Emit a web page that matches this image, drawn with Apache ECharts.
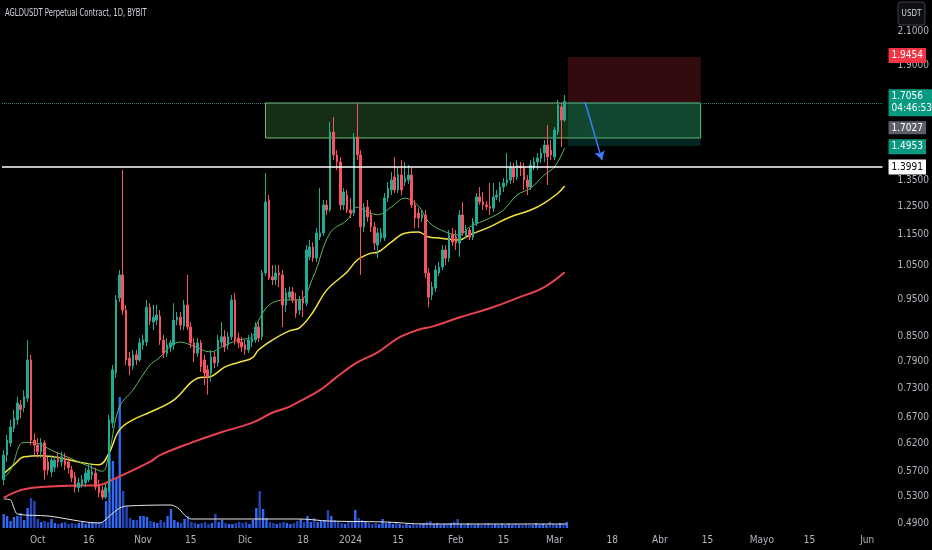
<!DOCTYPE html>
<html><head><meta charset="utf-8">
<script src="https://cdn.jsdelivr.net/npm/echarts@6/dist/echarts.min.js"></script>
<style>html,body{margin:0;padding:0;background:#000;}#c{width:932px;height:550px;}</style>
</head><body><div id="c"></div>
<script>
// ---------- data ----------
const title = 'AGLDUSDT Perpetual Contract, 1D, BYBIT';
const currency = 'USDT';
const firstDay = [2023, 8, 21];   // 2023-09-21 (UTC, month 0-based)
const dayCount = 259;             // through 2024-06-05

// [open, close, low, high]
const ohlc = [
[0.557,0.599,0.548,0.608],[0.599,0.626,0.587,0.636],[0.621,0.651,0.614,0.665],[0.649,0.668,0.641,0.685],[0.665,0.699,0.655,0.712],
[0.695,0.685,0.668,0.705],[0.689,0.712,0.680,0.726],[0.709,0.794,0.701,0.842],[0.794,0.626,0.617,0.806],[0.626,0.617,0.599,0.639],
[0.617,0.605,0.594,0.630],[0.605,0.621,0.594,0.630],[0.621,0.573,0.557,0.626],[0.587,0.573,0.565,0.596],[0.570,0.590,0.562,0.599],
[0.578,0.590,0.570,0.598],[0.596,0.587,0.577,0.605],[0.587,0.596,0.579,0.605],[0.594,0.582,0.573,0.603],[0.587,0.577,0.567,0.594],
[0.573,0.560,0.553,0.580],[0.562,0.544,0.536,0.570],[0.544,0.552,0.537,0.560],[0.548,0.557,0.544,0.565],[0.552,0.568,0.545,0.577],
[0.557,0.573,0.553,0.585],[0.565,0.570,0.557,0.582],[0.568,0.545,0.540,0.577],[0.548,0.536,0.529,0.557],[0.540,0.529,0.525,0.547],
[0.529,0.544,0.526,0.550],[0.540,0.665,0.537,0.675],[0.659,0.771,0.649,0.782],[0.764,0.948,0.753,0.962],[0.954,1.021,0.942,1.036],
[1.021,0.920,0.907,1.393],[0.920,0.794,0.782,0.934],[0.798,0.780,0.759,0.813],[0.780,0.806,0.771,0.818],[0.806,0.794,0.782,0.818],
[0.794,0.835,0.789,0.847],[0.830,0.842,0.818,0.855],[0.837,0.928,0.827,0.948],[0.928,0.891,0.880,0.939],[0.888,0.901,0.867,0.934],
[0.893,0.907,0.880,0.934],[0.904,0.842,0.830,0.920],[0.842,0.810,0.798,0.855],[0.810,0.830,0.801,0.847],[0.825,0.835,0.813,0.842],
[0.830,0.893,0.818,0.939],[0.893,0.901,0.880,0.915],[0.901,0.880,0.867,0.915],[0.878,0.934,0.867,0.948],[0.934,0.875,0.867,1.021],
[0.875,0.835,0.822,0.888],[0.835,0.810,0.789,0.847],[0.810,0.835,0.801,0.847],[0.835,0.778,0.766,0.842],[0.794,0.764,0.737,0.806],
[0.771,0.755,0.716,0.782],[0.764,0.801,0.744,0.818],[0.801,0.787,0.775,0.813],[0.787,0.842,0.778,0.855],[0.837,0.850,0.825,0.888],
[0.850,0.825,0.813,0.867],[0.830,0.850,0.818,0.862],[0.850,0.948,0.842,0.962],[0.948,0.842,0.830,0.968],[0.847,0.835,0.822,0.860],
[0.837,0.825,0.813,0.850],[0.830,0.818,0.806,0.842],[0.818,0.842,0.810,0.855],[0.837,0.847,0.825,0.860],[0.842,0.875,0.835,0.888],
[0.875,0.847,0.837,0.888],[0.850,1.027,0.842,1.036],[1.027,1.267,1.018,1.380],[1.274,1.012,1.006,1.293],[1.015,1.006,0.991,1.051],
[1.006,1.027,0.991,1.051],[1.027,1.021,0.985,1.051],[1.021,0.934,0.875,1.036],[0.934,0.968,0.915,0.982],[0.956,0.971,0.948,0.985],
[0.971,0.948,0.939,0.985],[0.948,0.912,0.899,0.968],[0.920,0.948,0.907,0.959],[0.954,0.939,0.901,0.976],[0.939,1.099,0.931,1.115],
[1.077,1.109,1.067,1.132],[1.109,1.073,1.061,1.125],[1.073,1.156,1.061,1.173],[1.142,1.156,1.132,1.320],[1.156,1.256,1.146,1.274],
[1.256,1.237,1.219,1.274],[1.237,1.558,1.230,1.605],[1.558,1.456,1.434,1.629],[1.456,1.426,1.393,1.477],[1.426,1.256,1.237,1.447],
[1.256,1.305,1.237,1.320],[1.293,1.237,1.226,1.313],[1.237,1.226,1.208,1.282],[1.226,1.535,1.215,1.553],[1.535,1.456,1.434,1.698],
[1.456,1.177,1.021,1.477],[1.177,1.248,1.159,1.263],[1.248,1.212,1.194,1.274],[1.219,1.177,1.159,1.237],[1.177,1.122,1.099,1.194],
[1.115,1.156,1.073,1.173],[1.139,1.156,1.125,1.173],[1.139,1.282,1.129,1.301],[1.282,1.320,1.267,1.344],[1.313,1.352,1.293,1.384],
[1.364,1.313,1.301,1.447],[1.313,1.372,1.301,1.401],[1.372,1.313,1.293,1.434],[1.344,1.360,1.328,1.426],[1.352,1.372,1.336,1.413],
[1.372,1.256,1.244,1.401],[1.256,1.208,1.173,1.274],[1.226,1.208,1.173,1.244],[1.208,1.219,1.194,1.237],[1.219,1.027,1.012,1.237],
[1.027,0.956,0.928,1.042],[0.962,0.985,0.948,1.000],[0.982,1.036,0.971,1.051],[1.027,1.045,1.018,1.061],[1.045,1.099,1.036,1.115],
[1.099,1.073,1.051,1.115],[1.073,1.149,1.061,1.166],[1.149,1.125,1.112,1.173],[1.142,1.122,1.099,1.166],[1.122,1.219,1.077,1.237],
[1.219,1.156,1.146,1.267],[1.149,1.166,1.139,1.183],[1.166,1.142,1.132,1.173],[1.142,1.194,1.132,1.208],[1.190,1.286,1.180,1.301],
[1.286,1.267,1.256,1.324],[1.267,1.256,1.237,1.305],[1.256,1.250,1.237,1.270],[1.250,1.244,1.219,1.340],[1.244,1.286,1.230,1.340],
[1.286,1.293,1.274,1.313],[1.293,1.324,1.267,1.344],[1.324,1.340,1.305,1.360],[1.340,1.352,1.328,1.464],[1.352,1.405,1.336,1.426],
[1.401,1.364,1.340,1.422],[1.364,1.413,1.352,1.434],[1.409,1.401,1.368,1.426],[1.401,1.352,1.313,1.422],[1.352,1.324,1.293,1.372],
[1.324,1.413,1.313,1.434],[1.405,1.426,1.392,1.447],[1.426,1.443,1.393,1.464],[1.443,1.464,1.422,1.486],[1.464,1.499,1.426,1.522],
[1.499,1.447,1.332,1.591],[1.477,1.456,1.434,1.522],[1.447,1.567,1.434,1.581],[1.558,1.688,1.544,1.713],[1.678,1.615,1.490,1.698],
[1.615,1.706,1.605,1.739]
];

// volume (thousand AGLD)
const volume = [
140,120,70,110,120,150,80,200,300,270,
90,60,70,60,90,50,40,50,60,40,
50,40,50,60,40,50,60,50,60,60,
270,750,670,500,1310,370,220,100,80,80,
120,120,110,70,60,50,80,60,120,190,
80,60,50,90,120,60,50,40,50,60,
40,50,140,60,80,50,40,40,50,60,
50,60,40,80,200,370,190,100,60,50,
40,50,60,50,40,50,70,90,60,120,
60,100,60,70,80,180,120,80,60,50,
40,60,70,180,100,80,60,50,40,50,
40,90,50,60,40,50,40,30,40,30,
40,30,40,50,60,70,40,50,30,40,
40,50,60,90,40,30,50,40,30,40,
30,40,50,30,40,30,40,30,40,30,
40,30,30,40,30,30,50,30,40,30,
60,40,30,50,40,60
];

// moving averages: [dayIndex, value]
const greenMA = [[0,0.560],[2,0.573],[6,0.622],[10,0.620],[14,0.608],[21,0.590],[26,0.577],[29,0.571],[31,0.603],[34,0.690],[38,0.726],[43,0.782],[45,0.794],[52,0.837],[55,0.830],[61,0.813],[64,0.825],[69,0.842],[73,0.850],[75,0.893],[79,0.940],[84,0.948],[87,0.948],[91,1.014],[96,1.156],[101,1.201],[104,1.248],[107,1.230],[110,1.220],[114,1.248],[118,1.281],[122,1.252],[125,1.194],[130,1.159],[134,1.149],[137,1.176],[143,1.208],[147,1.237],[151,1.293],[155,1.320],[159,1.372],[162,1.405],[165,1.486]];
const yellowMA = [[0,0.567],[3,0.582],[6,0.596],[11,0.598],[16,0.595],[22,0.587],[28,0.582],[31,0.603],[34,0.645],[38,0.665],[43,0.680],[50,0.705],[57,0.752],[61,0.756],[65,0.777],[69,0.788],[73,0.798],[75,0.818],[79,0.842],[84,0.865],[87,0.873],[91,0.915],[95,0.976],[101,1.030],[104,1.067],[108,1.089],[110,1.092],[114,1.125],[118,1.155],[122,1.159],[125,1.142],[128,1.139],[134,1.132],[137,1.149],[143,1.177],[149,1.212],[155,1.237],[159,1.263],[163,1.300],[165,1.328]];
const redMA = [[0,0.528],[5,0.540],[11,0.545],[19,0.547],[28,0.548],[32,0.557],[43,0.587],[46,0.599],[55,0.621],[64,0.641],[73,0.659],[79,0.679],[84,0.691],[87,0.702],[93,0.726],[98,0.755],[104,0.788],[110,0.812],[116,0.847],[122,0.868],[126,0.876],[134,0.900],[143,0.925],[151,0.953],[159,0.985],[165,1.029]];
const volumeMA = [[0,290],[2,280],[3,200],[4,140],[13,120],[28,50],[29,60],[31,120],[34,200],[36,220],[49,230],[51,200],[55,90],[87,90],[95,70],[112,60],[123,40],[165,40]];

const yTickValues = [0.49,0.53,0.57,0.62,0.67,0.73,0.79,0.85,0.95,1.05,1.15,1.25,1.35,1.9,2.1];
const xTickLabels = {'2023-10-01':'Oct','2023-10-16':'16','2023-11-01':'Nov','2023-11-15':'15','2023-12-01':'Dic','2023-12-18':'18','2024-01-01':'2024','2024-01-15':'15','2024-02-01':'Feb','2024-02-15':'15','2024-03-01':'Mar','2024-03-18':'18','2024-04-01':'Abr','2024-04-15':'15','2024-05-01':'Mayo','2024-05-15':'15','2024-06-01':'Jun'};

const priceTags = {stop:1.9454, last:1.7056, entry:1.7027, target:1.4953, level:1.3991};
const countdown = '04:46:53';
const zone = {from:'2023-12-07', to:'2024-04-13', low:1.531, high:1.698};
const position = {from:'2024-03-05', to:'2024-04-13'};
const arrowPts = [['2024-03-10',1.703],['2024-03-15',1.434]];
const priceRange = [0.4828, 2.303];

// ---------- build ----------
const dates = [];
{ let t = Date.UTC(firstDay[0], firstDay[1], firstDay[2]);
  for (let i = 0; i < dayCount; i++) { dates.push(new Date(t).toISOString().slice(0,10)); t += 86400000; } }
const L = Math.log;
const UP = '#22ab94', DOWN = '#f7525f';
const FONT = '"Liberation Sans Narrow","DejaVu Sans Condensed",Roboto,sans-serif';
const HIDDEN = {color:'rgba(0,0,0,0)', width:0};
const candleData = ohlc.map(r => r.map(L));
const volData = volume.map((v, i) => ({value: v, itemStyle: {color: ohlc[i][1] >= ohlc[i][0] ? '#3169f5' : '#2446b8'}}));
const maLine = (arr) => arr.map(([i, v]) => [dates[i], L(v)]);
const tagLabel = (txt, bg, fg) => ({show:true, position:'end', distance:6, formatter:txt, color:fg||'#fff', backgroundColor:bg, padding:[2,3,1,3], fontSize:10, fontFamily:FONT, lineHeight:12});

const chart = echarts.init(document.getElementById('c'), null, {renderer:'canvas'});
chart.setOption({
  backgroundColor:'#000',
  animation:false,
  grid:[
    {left:2, right:46, top:0, bottom:22},
    {left:2, right:46, top:395, bottom:22}
  ],
  xAxis:[
    {type:'category', data:dates, gridIndex:0, boundaryGap:true,
     axisLine:{show:false}, axisTick:{show:false}, splitLine:{show:false},
     axisLabel:{interval:(i, v) => v in xTickLabels, formatter:v => xTickLabels[v] || '', color:'#b2b5be', fontSize:10, fontFamily:FONT, margin:7}},
    {type:'category', data:dates, gridIndex:1, boundaryGap:true, show:false}
  ],
  yAxis:[
    {type:'value', gridIndex:0, position:'right', min:L(priceRange[0]), max:L(priceRange[1]),
     axisLine:{show:false}, axisTick:{show:false}, splitLine:{show:false},
     axisLabel:{customValues:yTickValues.map(L), formatter:v => Math.exp(v).toFixed(4), color:'#b2b5be', fontSize:10, fontFamily:FONT, margin:15}},
    {type:'value', gridIndex:1, min:0, max:1330, show:false}
  ],
  series:[
    {type:'bar', name:'Volume', xAxisIndex:1, yAxisIndex:1, data:volData, barWidth:'70%', z:1},
    {type:'line', name:'Vol MA', xAxisIndex:1, yAxisIndex:1, data:volumeMA.map(([i,v]) => [dates[i], v]), showSymbol:false, smooth:0.3, lineStyle:{color:'#e6e6e6', width:1}, z:2},
    {type:'line', name:'MA red', data:maLine(redMA), showSymbol:false, smooth:0.4, lineStyle:{color:'#e8434f', width:2}, z:3},
    {type:'line', name:'MA yellow', data:maLine(yellowMA), showSymbol:false, smooth:0.4, lineStyle:{color:'#f3e33f', width:1.5}, z:3},
    {type:'line', name:'MA green', data:maLine(greenMA), showSymbol:false, smooth:0.4, lineStyle:{color:'#5cb85f', width:1}, z:3},
    {type:'candlestick', name:'AGLDUSDT', data:candleData, barWidth:'62%', z:4,
     itemStyle:{color:UP, color0:DOWN, borderColor:UP, borderColor0:DOWN, borderWidth:1},
     markArea:{silent:true, data:[
       [{xAxis:zone.from, yAxis:L(zone.high), itemStyle:{color:'rgba(76,175,80,0.27)', borderColor:'#72c175', borderWidth:1}}, {xAxis:zone.to, yAxis:L(zone.low)}],
       [{xAxis:position.from, yAxis:L(priceTags.stop), itemStyle:{color:'rgba(242,54,69,0.21)'}}, {xAxis:position.to, yAxis:L(priceTags.entry)}],
       [{xAxis:position.from, yAxis:L(priceTags.entry), itemStyle:{color:'rgba(8,153,129,0.24)'}}, {xAxis:position.to, yAxis:L(priceTags.target)}]
     ]},
     markLine:{silent:true, symbol:['none','none'], data:[
       {yAxis:L(priceTags.level), lineStyle:{color:'#ffffff', width:1.5, type:'solid'}, label:tagLabel(priceTags.level.toFixed(4), '#ffffff', '#000')},
       {yAxis:L(priceTags.stop), lineStyle:HIDDEN, label:tagLabel(priceTags.stop.toFixed(4), '#f23645')},
       {yAxis:L(priceTags.target), lineStyle:HIDDEN, label:tagLabel(priceTags.target.toFixed(4), '#089981')},
       {yAxis:L(priceTags.entry), lineStyle:HIDDEN, label:{show:true, position:'end', distance:6, formatter:'{s| }\n{g|' + priceTags.entry.toFixed(4) + '}',
          rich:{s:{height:50, fontSize:10}, g:{backgroundColor:'#5d606b', color:'#fff', padding:[2,3,1,3], fontSize:10, fontFamily:FONT}}}},
       {yAxis:L(priceTags.last), lineStyle:{color:'#4d7a73', width:1, type:'dotted'}, label:tagLabel(priceTags.last.toFixed(4) + '\n' + countdown, '#089981')},
       [{coord:[arrowPts[0][0], L(arrowPts[0][1])], symbol:'none', lineStyle:{color:'#3d7bff', width:1.5, type:'solid'}, label:{show:false}},
        {coord:[arrowPts[1][0], L(arrowPts[1][1])], symbol:'arrow', symbolSize:[8,9]}]
     ]}
    }
  ],
  graphic:[
    {type:'text', x:5, y:13, scaleX:0.76, style:{text:title, fill:'#d1d4dc', font:'10px ' + FONT, verticalAlign:'middle'}},
    {type:'group', x:898, y:2, children:[
      {type:'rect', shape:{x:0, y:0, width:27, height:23, r:3}, style:{fill:'#0e1015', stroke:'#3b3f4a', lineWidth:1}},
      {type:'text', x:13.5, y:11.5, style:{text:currency, fill:'#d1d4dc', font:'8px ' + FONT, align:'center', verticalAlign:'middle'}}
    ]}
  ]
});
</script></body></html>
